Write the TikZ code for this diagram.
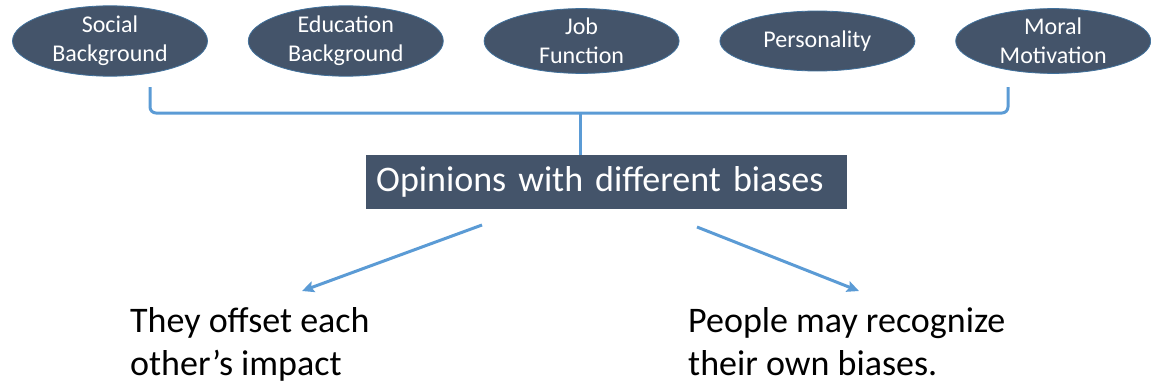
\documentclass[tikz,border=0pt]{standalone}
\usepackage{fontspec}
\setmainfont{Carlito}
\usetikzlibrary{arrows.meta, positioning, shapes.geometric}
\definecolor{slate}{HTML}{44546A}
\definecolor{rim}{HTML}{41719C}
\definecolor{linkblue}{HTML}{5B9BD5}
\tikzset{
        x=1pt, y=1pt,
        factor/.style={ % the five sources of bias
		ellipse,
		fill=slate,
		draw=rim,
		line width=0.8pt,
		text=white,
		inner sep=0pt,
		minimum width=195pt,
		minimum height=60pt,
		align=center,
		font=\fontsize{24}{29}\selectfont,
	  },
  		opinion/.style={
		fill=slate,
		text=white,
		anchor=north west,
		inner xsep=10pt,
		inner ysep=0pt,
		text width=461pt,
		minimum height=54pt,
		align=left,
		font=\fontsize{36}{43}\selectfont,
      },
  		outcome/.style={
		anchor=base west, % base of the last line
		inner sep=0pt,
		align=left,
		font=\fontsize{36}{43}\selectfont,
      },
  		link/.style={
		draw=linkblue,
		line width=3pt,
      },
  	}

\begin{document}
\begin{tikzpicture}[node distance=40pt]
    \useasboundingbox (0,0) rectangle (1151,384);
    \node [factor] at (110,343) (social) {Social\\Background};
    \node [factor, right=of social] (education) {Education\\Background};
    \node [factor, right=of education] (job) {Job\\Function};
    \node [factor, right=of job] (personality) {Personality};
    \node [factor, right=of personality] (moral) {Moral\\Motivation};

    \node [opinion] at (366,229) (biases) {Opinions with different biases};

    \node [outcome] at (130,9) (offset) {They offset each\\other’s impact};
    \node [outcome] at (688,9) (recognize) {People may recognize\\their own biases.};

    % brace gathering the factors
    \coordinate (bl) at (150,297);
    \coordinate (br) at (1008,297);
    \coordinate (bm) at (580,271);
    \draw [link, rounded corners=6pt] (bl) -- (150,271) -- (bm) -- (1008,271) -- (br);
    \draw [link] (bm) -- (biases.north -| bm);

    % arrows to the two outcomes
    \coordinate (l0) at (482,159);
    \coordinate (l1) at (302,93);
    \coordinate (r0) at (697,157);
    \coordinate (r1) at (859,93);
    \draw [link, -{Stealth[length=12pt, width=11pt, inset=2pt]}] (l0) -- (l1);
    \draw [link, -{Stealth[length=12pt, width=11pt, inset=2pt]}] (r0) -- (r1);
  \end{tikzpicture}
\end{document}
